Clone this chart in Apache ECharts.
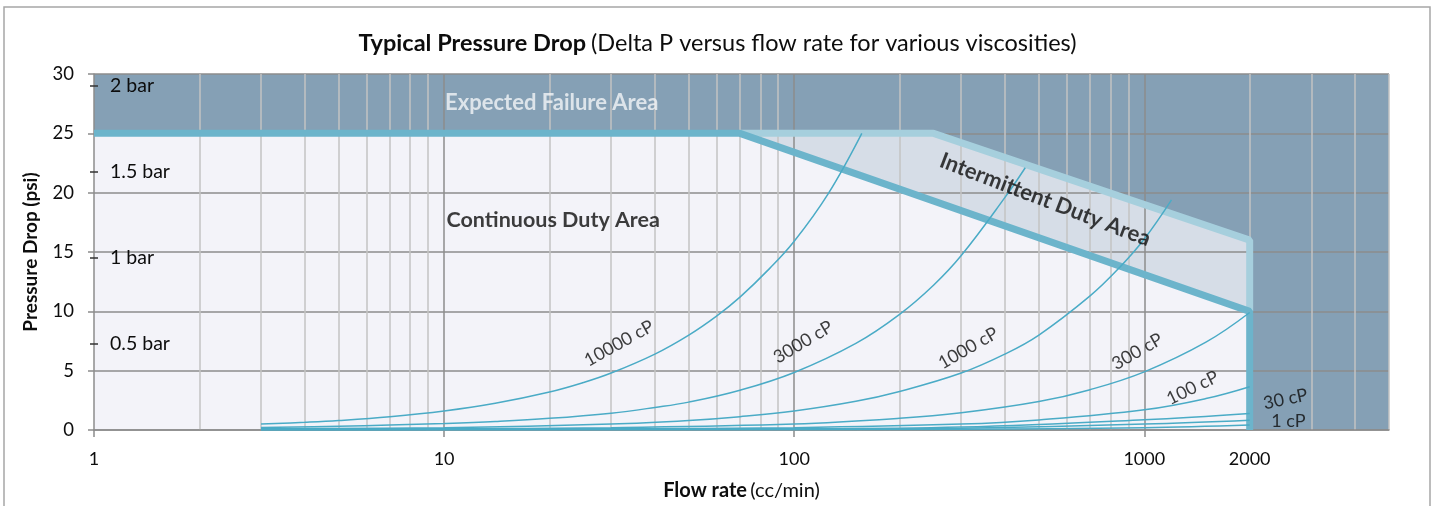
<!DOCTYPE html>
<html>
<head>
<meta charset="utf-8">
<script src="https://cdn.jsdelivr.net/npm/echarts@6/dist/echarts.min.js"></script>
<style>
  html, body { margin: 0; padding: 0; background: #fff; }
  #chart { width: 1435px; height: 506px; }
</style>
</head>
<body>
<div id="chart"></div>
<script>
// ---- data ----
const xLabelValues = [1, 10, 100, 1000, 2000];
const xTickValues = [1, 10, 100, 1000];
const majorGridX = [10, 100, 1000];
const minorGridX = [2, 3, 4, 5, 6, 7, 8, 9, 20, 30, 40, 50, 60, 70, 80, 90,
                    200, 300, 400, 500, 600, 700, 800, 900, 2000, 3000, 4000, 5000];
const barTicks = [0.5, 1, 1.5, 2];          // bar
const psiPerBar = 14.5;

// duty area boundaries [flow, psi]
const continuousEdge = [[1, 25], [70, 25], [2000, 10], [2000, 0]];
const intermittentEdge = [[70, 25], [250, 25], [2000, 16], [2000, 10]];

// viscosity curves [flow cc/min, psi]
const cp10000 = [[3, 0.5], [4, 0.65], [5, 0.8], [7, 1.12], [10, 1.6], [14, 2.25], [20, 3.2], [25, 4.0],
                 [30, 4.8], [40, 6.4], [50, 8.0], [60, 9.6], [70, 11.2], [85, 13.6], [100, 15.9],
                 [125, 19.9], [156, 25]];
const cp3000 = [[3, 0.22], [5, 0.32], [7, 0.42], [10, 0.55], [14, 0.72], [20, 0.98], [30, 1.42], [40, 1.9],
                [50, 2.35], [70, 3.35], [100, 4.85], [150, 7.3], [200, 9.75], [250, 12.2], [300, 14.7],
                [400, 19.6], [457, 22.1]];
const cp1000 = [[3, 0.1], [10, 0.2], [30, 0.5], [50, 0.8], [70, 1.12], [100, 1.6], [150, 2.42], [200, 3.25],
                [300, 4.8], [400, 6.4], [500, 8.0], [700, 11.3], [850, 13.7], [1000, 16.1], [1196, 19.4]];
const cp300 = [[3, 0.07], [10, 0.1], [30, 0.2], [100, 0.5], [200, 0.98], [300, 1.45], [500, 2.4],
               [700, 3.4], [1000, 4.9], [1500, 7.4], [2000, 9.9]];
const cp100 = [[3, 0.04], [10, 0.06], [30, 0.1], [100, 0.2], [300, 0.5], [500, 0.85], [1000, 1.7],
               [1500, 2.65], [2000, 3.65]];
const cp30 = [[3, 0.04], [100, 0.1], [300, 0.25], [1000, 0.87], [2000, 1.4]];
const cp10 = [[3, 0.03], [100, 0.06], [300, 0.15], [1000, 0.5], [2000, 0.83]];
const cp1 = [[3, 0.02], [100, 0.03], [300, 0.07], [1000, 0.2], [2000, 0.42]];
const curves = [cp10000, cp3000, cp1000, cp300, cp100, cp30, cp10, cp1];

// curve / area captions: [flow, psi]
const curveNames = ['10000 cP', '3000 cP', '1000 cP', '300 cP', '100 cP', '30 cP', '1 cP'];
const curveNameAt = [[31.6, 7.3], [106, 7.4], [314, 6.9], [955, 6.6], [1374, 3.55], [2530, 2.6], [2580, 0.72]];
const curveNameTilt = [29, 31, 30, 30, 26, 12, 0];

const FONT = 'Lato, "Open Sans", sans-serif';
const gridGrey = '#8c8c8c';
const ink = '#0d0d0d';

const chart = echarts.init(document.getElementById('chart'));

const curveSeries = curves.map(d => ({
  type: 'line', data: d, smooth: 0.4, symbol: 'none', silent: true, z: 7,
  lineStyle: { color: '#4aabc6', width: 1.5 }
}));

const option = {
  animation: false,
  title: {
    text: '{b|Typical Pressure Drop} {n|(Delta P versus flow rate for various viscosities)}',
    left: 'center', top: 26,
    textStyle: {
      rich: {
        b: { fontFamily: FONT, fontSize: 23.5, fontWeight: 'bold', color: ink },
        n: { fontFamily: FONT, fontSize: 23.5, fontWeight: 'normal', color: ink }
      }
    }
  },
  graphic: [{
    type: 'rect', silent: true, z: -10,
    shape: { x: 4, y: 7, width: 1426, height: 520 },
    style: { fill: 'none', stroke: '#a6a6a6', lineWidth: 1.5 }
  }],
  grid: {
    left: 94, right: 46, top: 74, bottom: 73,
    show: true, backgroundColor: '#85a0b5', borderWidth: 0
  },
  xAxis: {
    type: 'log', logBase: 10, min: 1, max: 5000, z: 3,
    name: '{b|Flow rate} {n|(cc/min)}',
    nameLocation: 'middle', nameGap: 51,
    nameTextStyle: {
      rich: {
        b: { fontFamily: FONT, fontSize: 20, fontWeight: 'bold', color: ink },
        n: { fontFamily: FONT, fontSize: 20, fontWeight: 'normal', color: ink }
      }
    },
    axisLine: { show: true, lineStyle: { color: gridGrey, width: 1.5 } },
    axisTick: { show: true, customValues: xTickValues, length: 7, lineStyle: { color: gridGrey, width: 1.5 } },
    axisLabel: {
      customValues: xLabelValues, margin: 20, fontSize: 18, fontFamily: FONT, color: ink,
      formatter: v => String(Math.round(v))
    },
    splitLine: { show: false },
    minorTick: { show: false },
    minorSplitLine: { show: false }
  },
  yAxis: [{
    type: 'value', min: 0, max: 30, interval: 5, z: 3,
    name: 'Pressure Drop (psi)', nameLocation: 'middle', nameGap: 54,
    nameTextStyle: { fontFamily: FONT, fontSize: 19, fontWeight: 'bold', color: ink },
    axisLine: { show: true, lineStyle: { color: gridGrey, width: 1.5 } },
    axisTick: { show: true, length: 6, lineStyle: { color: gridGrey, width: 1.5 } },
    axisLabel: { margin: 20, fontSize: 18.5, fontFamily: FONT, color: ink },
    splitLine: { show: true, lineStyle: { color: gridGrey, width: 1.5 } }
  }, {
    type: 'value', min: 0, max: 30, position: 'left', offset: -4, z: 3,
    axisLine: { show: false },
    axisTick: { show: true, customValues: barTicks.map(b => b * psiPerBar), length: 8,
                lineStyle: { color: '#333', width: 1.5 } },
    axisLabel: {
      inside: true, customValues: barTicks.map(b => b * psiPerBar), margin: 12,
      fontSize: 19.5, fontFamily: FONT, color: ink,
      formatter: v => (+(v / psiPerBar).toFixed(2)) + ' bar'
    },
    splitLine: { show: false }
  }],
  series: [
    // intermittent duty fill
    { type: 'line', data: intermittentEdge, symbol: 'none', silent: true, z: 1,
      lineStyle: { width: 0 }, areaStyle: { color: '#d6dde7', opacity: 1 } },
    // continuous duty fill
    { type: 'line', data: continuousEdge, symbol: 'none', silent: true, z: 2,
      lineStyle: { width: 0 }, areaStyle: { color: '#f3f3f9', opacity: 1 } },
    // vertical grid
    { type: 'line', data: [], silent: true,
      markLine: { z: 3, silent: true, symbol: 'none', animation: false, label: { show: false },
        lineStyle: { color: '#c3c3c3', width: 1.5, type: 'solid' },
        data: minorGridX.map(v => ({ xAxis: v })) } },
    { type: 'line', data: [], silent: true,
      markLine: { z: 3, silent: true, symbol: 'none', animation: false, label: { show: false },
        lineStyle: { color: gridGrey, width: 1.5, type: 'solid' },
        data: majorGridX.map(v => ({ xAxis: v })) } },
    // boundaries
    { type: 'line', data: intermittentEdge, symbol: 'none', silent: true, z: 6,
      lineStyle: { color: '#a6cfdd', width: 7 } },
    { type: 'line', data: continuousEdge, symbol: 'none', silent: true, z: 6,
      lineStyle: { color: '#6cb4cb', width: 7 } },
    ...curveSeries,
    // captions
    { type: 'scatter', symbolSize: 0, silent: true, z: 8,
      label: { show: true, position: 'inside', fontFamily: FONT, fontSize: 18, color: ink,
               formatter: p => p.name },
      data: curveNames.map((n, i) => ({ name: n, value: curveNameAt[i], label: { rotate: curveNameTilt[i] } })).concat([
        { name: 'Expected Failure Area', value: [20.3, 27.6],
          label: { fontWeight: 'bold', fontSize: 22, color: '#f2f5f8' } },
        { name: 'Continuous Duty Area', value: [20.5, 17.7],
          label: { fontWeight: 'bold', fontSize: 21.5 } },
        { name: 'Intermittent Duty Area', value: [521, 19.4],
          label: { fontWeight: 'bold', fontSize: 22, rotate: -21 } }
      ]) }
  ]
};

chart.setOption(option);
</script>
</body>
</html>
